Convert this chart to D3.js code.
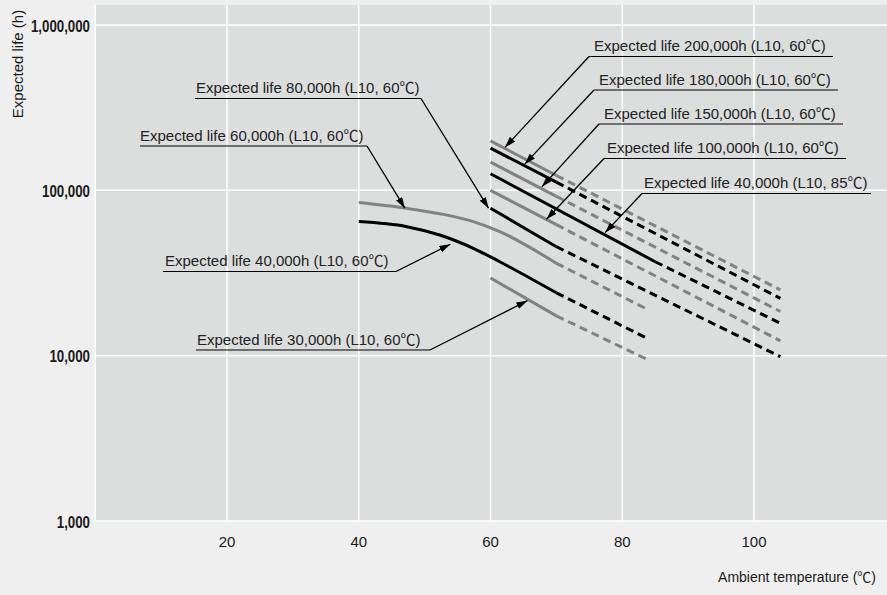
<!DOCTYPE html>
<html><head><meta charset="utf-8">
<script src="https://cdn.jsdelivr.net/npm/d3@7/dist/d3.min.js"></script>
<style>body{margin:0;background:#efefef;overflow:hidden}</style>
</head><body><svg id="c" width="887" height="595"></svg>
<script>
// ---------------- data ----------------
const xTicks = [20, 40, 60, 80, 100];
const xGrid = [0, 20, 40, 60, 80, 100];
const yTicks = [1000, 10000, 100000, 1000000];
const yTickLabels = ["1,000", "10,000", "100,000", "1,000,000"];

// Expected life curves (temperature °C, life h); solid up to solidTo, dashed beyond
const temp200k = [60, 70, 104];  const life200k = [199000, 123000, 25000];  const solid200k = 70;
const temp180k = [60, 70, 104];  const life180k = [180000, 112000, 22200];  const solid180k = 70;
const temp150k = [60, 70, 104];  const life150k = [148000, 92000, 18500];   const solid150k = 70;
const temp40k85 = [60, 85, 104]; const life40k85 = [126000, 37000, 15700];  const solid40k85 = 85;
const temp100k = [60, 70, 104];  const life100k = [100000, 62000, 12300];   const solid100k = 70;
const temp80k = [60, 70, 104];   const life80k = [78000, 45600, 9860];      const solid80k = 70;
const temp60k = [40, 47.3, 52.3, 57.4, 61.4, 70, 84]; const life60k = [84300, 77800, 72200, 64700, 56300, 36200, 18900]; const solid60k = 70;
const temp40k60 = [40, 47.3, 52.3, 57.4, 61.4, 70, 84]; const life40k60 = [64700, 60300, 53700, 44600, 37000, 24000, 12600]; const solid40k60 = 70;
const temp30k = [60, 70, 84];    const life30k = [29500, 17400, 9400];      const solid30k = 70;

// annotation texts and the data point each arrow points at
const annText = [
  "Expected life 200,000h (L10, 60\u2103)",
  "Expected life 180,000h (L10, 60\u2103)",
  "Expected life 150,000h (L10, 60\u2103)",
  "Expected life 100,000h (L10, 60\u2103)",
  "Expected life 40,000h (L10, 85\u2103)",
  "Expected life 80,000h (L10, 60\u2103)",
  "Expected life 60,000h (L10, 60\u2103)",
  "Expected life 40,000h (L10, 60\u2103)",
  "Expected life 30,000h (L10, 60\u2103)"
];
const annTipTemp = [62.2, 65.2, 67.8, 68.5, 77.4, 59.7, 47.0, 53.9, 65.6];
const annTipLife = [182000, 144000, 105000, 66800, 55500, 78000, 78000, 47200, 21500];

// ---------------- styles / layout ----------------
const GRAY = "#828282", BLACK = "#000";
const seriesStyle = [GRAY, BLACK, GRAY, BLACK, GRAY, BLACK, GRAY, BLACK, GRAY];
const seriesData = [
  [temp200k, life200k, solid200k], [temp180k, life180k, solid180k], [temp150k, life150k, solid150k],
  [temp40k85, life40k85, solid40k85], [temp100k, life100k, solid100k], [temp80k, life80k, solid80k],
  [temp60k, life60k, solid60k], [temp40k60, life40k60, solid40k60], [temp30k, life30k, solid30k]
];
// label layout: underline y, underline x1, x2, text x, side where leader starts
const annLayout = [
  {y: 56.5, x1: 589, x2: 833, tx: 594, from: "left"},
  {y: 90,   x1: 594, x2: 838, tx: 599, from: "left"},
  {y: 124,  x1: 599, x2: 843, tx: 604, from: "left"},
  {y: 158.5,x1: 604, x2: 846, tx: 607, from: "left"},
  {y: 193.5,x1: 642, x2: 871, tx: 644, from: "left"},
  {y: 98.5, x1: 195, x2: 421, tx: 196, from: "right"},
  {y: 146,  x1: 140, x2: 367, tx: 140, from: "right"},
  {y: 271.5,x1: 163, x2: 396, tx: 165, from: "right"},
  {y: 350,  x1: 196, x2: 430, tx: 197, from: "right"}
];

const W = 887, H = 595;
const x = d3.scaleLinear().domain([0, 120]).range([95.25, 95.25 + 6.5875 * 120]);
const y = d3.scaleLog().domain([1000, 1000000]).range([521, 25]);

const svg = d3.select("#c");
svg.append("rect").attr("width", W).attr("height", H).attr("fill", "#efefef");
svg.append("rect").attr("x", x(0)).attr("y", 5).attr("width", W - x(0)).attr("height", y(1000) - 5).attr("fill", "#dcdddd");

// grid
svg.append("g").selectAll("line").data(xGrid).join("line")
  .attr("x1", d => x(d)).attr("x2", d => x(d)).attr("y1", 5).attr("y2", y(1000))
  .attr("stroke", "#fff").attr("stroke-width", 1.5);
svg.append("g").selectAll("line").data(yTicks).join("line")
  .attr("x1", x(0)).attr("x2", W).attr("y1", d => y(d)).attr("y2", d => y(d))
  .attr("stroke", "#fff").attr("stroke-width", 1.5);

// axes labels (y tick labels are condensed)
svg.append("g").selectAll("text").data(yTicks).join("text")
  .attr("transform", d => `translate(90,${y(d) + 6.5}) scale(0.83,1)`).attr("text-anchor", "end")
  .attr("font-family", "'Liberation Sans',Arial,sans-serif")
  .attr("font-size", 16).attr("font-weight", "bold").attr("fill", "#1a1a1a")
  .text((d, i) => yTickLabels[i]);
svg.append("g").selectAll("text").data(xTicks).join("text")
  .attr("x", d => x(d)).attr("y", 547).attr("text-anchor", "middle")
  .attr("font-family", "'Liberation Sans',Arial,sans-serif")
  .attr("font-size", 15).attr("fill", "#1a1a1a")
  .text(d => d);
svg.append("text").attr("x", 876).attr("y", 582).attr("text-anchor", "end")
  .attr("font-family", "'Liberation Sans',Arial,'Noto Sans CJK JP',sans-serif")
  .attr("font-size", 14).attr("fill", "#1a1a1a").text("Ambient temperature (\u2103)");
svg.append("text").attr("transform", "translate(23,64) rotate(-90)").attr("text-anchor", "middle")
  .attr("font-family", "'Liberation Sans',Arial,sans-serif")
  .attr("font-size", 15).attr("fill", "#1a1a1a").text("Expected life (h)");

// curves
const line = d3.line().x(d => x(d[0])).y(d => y(d[1])).curve(d3.curveMonotoneX);
seriesData.forEach(([t, l, s], i) => {
  const pts = t.map((tv, j) => [tv, l[j]]);
  const solid = pts.filter(p => p[0] <= s);
  const dashed = pts.filter(p => p[0] >= s);
  svg.append("path").attr("d", line(solid)).attr("fill", "none")
    .attr("stroke", seriesStyle[i]).attr("stroke-width", 3);
  svg.append("path").attr("d", line(dashed)).attr("fill", "none")
    .attr("stroke", seriesStyle[i]).attr("stroke-width", 3).attr("stroke-dasharray", "8,5");
});

// arrow marker
svg.append("defs").append("marker").attr("id", "arr")
  .attr("markerUnits", "userSpaceOnUse").attr("markerWidth", 12).attr("markerHeight", 8)
  .attr("refX", 11).attr("refY", 3.5).attr("orient", "auto")
  .append("path").attr("d", "M0,0 L11,3.5 L0,7 Z").attr("fill", "#000");

// annotations
annText.forEach((txt, i) => {
  const L = annLayout[i];
  const g = svg.append("g");
  g.append("text").attr("x", L.tx).attr("y", L.y - 5.5)
    .attr("font-family", "'Liberation Sans',Arial,'Noto Sans CJK JP',sans-serif")
    .attr("font-size", 15).attr("fill", "#222").text(txt);
  g.append("line").attr("x1", L.x1).attr("x2", L.x2).attr("y1", L.y).attr("y2", L.y)
    .attr("stroke", "#000").attr("stroke-width", 1.2);
  const sx = L.from === "left" ? L.x1 : L.x2;
  g.append("line").attr("x1", sx).attr("y1", L.y)
    .attr("x2", x(annTipTemp[i])).attr("y2", y(annTipLife[i]))
    .attr("stroke", "#000").attr("stroke-width", 1.3).attr("marker-end", "url(#arr)");
});
</script></body></html>
